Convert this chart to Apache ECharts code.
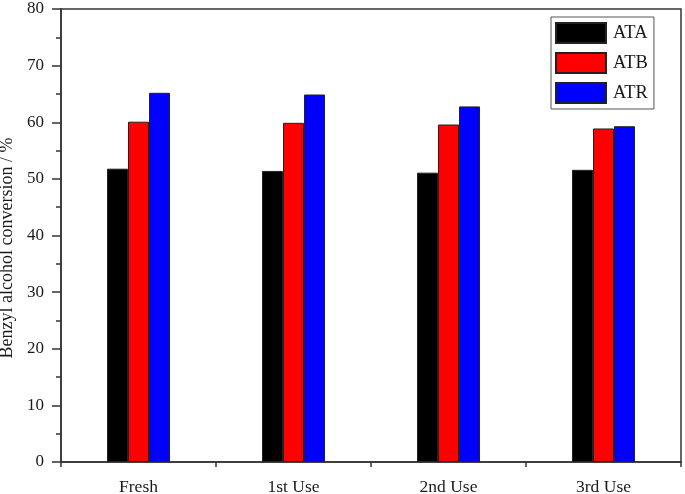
<!DOCTYPE html>
<html>
<head>
<meta charset="utf-8">
<script src="https://cdn.jsdelivr.net/npm/echarts@6/dist/echarts.min.js"></script>
<style>
html,body{margin:0;padding:0;background:#fff;}
#chart{width:685px;height:494px;}
</style>
</head>
<body>
<div id="chart"></div>
<script>
const categories = ['Fresh', '1st Use', '2nd Use', '3rd Use'];
const seriesNames = ['ATA', 'ATB', 'ATR'];
const ataValues = [51.8, 51.4, 51.1, 51.6];
const atbValues = [60.1, 59.9, 59.6, 58.9];
const atrValues = [65.2, 64.9, 62.8, 59.3];
const seriesValues = [ataValues, atbValues, atrValues];
const seriesColors = ['#000000', '#ff0000', '#0000ff'];
const yTicks = [0, 10, 20, 30, 40, 50, 60, 70, 80];

const font = 'Liberation Serif, Times New Roman, serif';
const axisColor = '#333';
const textColor = '#1a1a1a';

const chart = echarts.init(document.getElementById('chart'), null, {renderer: 'canvas'});
chart.setOption({
  backgroundColor: '#fff',
  animation: false,
  grid: {left: 61, right: 4, top: 9, bottom: 32, outerBoundsMode: 'none', containLabel: false,
         show: true, borderColor: axisColor, borderWidth: 1.5, backgroundColor: 'transparent'},
  legend: {
    orient: 'vertical',
    left: 551, top: 17,
    itemWidth: 50, itemHeight: 20, itemGap: 8,
    padding: [5, 6, 5, 4],
    borderColor: '#555', borderWidth: 1,
    backgroundColor: '#fff',
    textStyle: {fontFamily: font, fontSize: 18.5, color: textColor, padding: [0, 0, 0, 2]},
    icon: 'rect',
    data: seriesNames
  },
  xAxis: [{
    type: 'category',
    data: categories,
    axisLine: {lineStyle: {color: axisColor, width: 1.5}},
    axisTick: {alignWithLabel: true, inside: false, length: 9, lineStyle: {color: axisColor, width: 1.5}},
    axisLabel: {fontFamily: font, fontSize: 17.5, color: textColor, margin: 16},
    splitLine: {show: false}
  }, {
    type: 'category',
    data: categories,
    position: 'bottom',
    gridIndex: 0,
    axisLine: {show: false},
    axisTick: {show: true, length: 5, lineStyle: {color: axisColor, width: 1.5}},
    axisLabel: {show: false},
    splitLine: {show: false}
  }],
  yAxis: {
    type: 'value',
    min: yTicks[0], max: yTicks[yTicks.length - 1], interval: 10,
    name: 'Benzyl alcohol conversion / %',
    nameLocation: 'middle',
    nameGap: 44,
    nameTextStyle: {fontFamily: font, fontSize: 18, color: textColor, padding: [0, 25, 0, 0]},
    axisLine: {show: true, lineStyle: {color: axisColor, width: 1.5}},
    axisTick: {show: true, length: 9, lineStyle: {color: axisColor, width: 1.5}},
    minorTick: {show: true, splitNumber: 2, length: 5, lineStyle: {color: axisColor, width: 1.5}},
    axisLabel: {fontFamily: font, fontSize: 17, color: textColor, margin: 17},
    splitLine: {show: false}
  },
  series: seriesNames.map((name, i) => ({
    name: name,
    type: 'bar',
    data: seriesValues[i],
    barWidth: 21,
    barGap: '0%',
    itemStyle: {color: seriesColors[i], borderColor: '#222', borderWidth: 1}
  }))
});
</script>
</body>
</html>
